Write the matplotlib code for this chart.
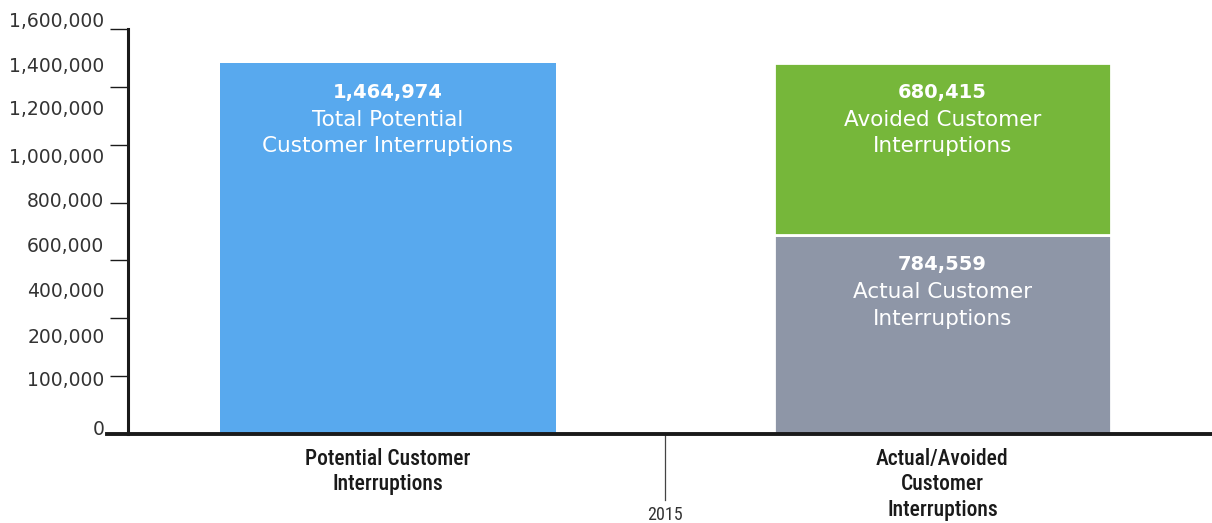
#!/usr/bin/env python3
"""Potential vs. actual/avoided customer interruptions, 2015."""

import matplotlib
matplotlib.use('Agg')
import matplotlib.pyplot as plt
import matplotlib.transforms as mtransforms
import numpy as np

# --- data -------------------------------------------------------------
categories = ['Potential Customer\nInterruptions',
              'Actual/Avoided\nCustomer\nInterruptions']
year_label = '2015'

potential_total = 1464974
actual = 784559
avoided = 680415

bar_notes = {
    'potential': 'Total Potential\nCustomer Interruptions',
    'avoided': 'Avoided Customer\nInterruptions',
    'actual': 'Actual Customer\nInterruptions',
}

# y-axis text labels as printed on the axis, and where they sit
ytick_text = ['1,600,000', '1,400,000', '1,200,000', '1,000,000', '800,000',
              '600,000', '400,000', '200,000', '100,000', '0']
ytick_text_pos = [1629000, 1451000, 1280000, 1094000, 917000,
                  739000, 561000, 383000, 213000, 16000]

# --- style ------------------------------------------------------------
BLUE = '#58a9ee'
GREEN = '#76b73a'
GRAY = '#8e96a7'
AXIS = '#1a1a1a'
LABEL = '#333333'
COND = ['Roboto Condensed', 'Liberation Sans Narrow', 'Liberation Sans',
        'DejaVu Sans']

fig = plt.figure(figsize=(12.12, 5.23), dpi=100)
ax = fig.add_axes([0.1056, 0.1702, 0.8934, 0.7744])

x = np.arange(len(categories))
width = 0.607

ax.bar(x[0], potential_total, width=width, color=BLUE, zorder=2)
ax.bar(x[1], actual, width=width, color=GRAY, edgecolor='white',
       linewidth=2, zorder=2)
ax.bar(x[1], avoided, width=width, bottom=actual, color=GREEN,
       edgecolor='white', linewidth=2, zorder=2)


def bar_label(xpos, top, value, note):
    ax.annotate(f'{value:,}', xy=(xpos, top), xytext=(0, -21),
                textcoords='offset points', ha='center', va='center',
                color='white', fontsize=14, fontweight='bold', zorder=3)
    ax.annotate(note, xy=(xpos, top), xytext=(0, -50.5),
                textcoords='offset points', ha='center', va='center',
                color='white', fontsize=15.5, linespacing=1.38, zorder=3)


bar_label(x[0], potential_total, potential_total, bar_notes['potential'])
bar_label(x[1], actual + avoided, avoided, bar_notes['avoided'])
bar_label(x[1], actual, actual, bar_notes['actual'])

# unlabeled tick marks on the y-axis
ax.set_yticks(np.linspace(0, 1600000, 8))
ax.set_yticklabels([])
ax.tick_params(axis='y', which='major', direction='out', length=13,
               width=1.0, color=AXIS)

# axes limits and spines
ax.set_xlim(-0.469, 1.484)
ax.set_ylim(0, 1600000)
for side in ('top', 'right', 'bottom'):
    ax.spines[side].set_visible(False)
ax.spines['left'].set_linewidth(2.2)
ax.spines['left'].set_color(AXIS)

# printed y labels, placed beside the tick column
ytrans = mtransforms.blended_transform_factory(ax.transAxes, ax.transData)
for txt, pos in zip(ytick_text, ytick_text_pos):
    ax.annotate(txt, xy=(0, pos), xycoords=ytrans, xytext=(-17, 0),
                textcoords='offset points', ha='right', va='center',
                fontsize=13.5, color=LABEL, annotation_clip=False)

# thick baseline running slightly past the y-axis
ax.axhline(0, xmin=-0.019, xmax=1.0, color=AXIS, linewidth=2.8,
           clip_on=False, zorder=5)

# category labels
ax.set_xticks(x)
ax.set_xticklabels(categories, family=COND, fontsize=15.5,
                   fontweight='medium', color=AXIS, linespacing=1.2,
                   va='top')
ax.tick_params(axis='x', length=0, pad=10)

# year divider and label
trans = mtransforms.blended_transform_factory(ax.transData, ax.transAxes)
ax.plot([0.5, 0.5], [0, -0.163], transform=trans, color='#444444',
        linewidth=0.9, clip_on=False)
ax.text(0.5, -0.2, year_label, transform=trans, ha='center', va='center',
        family=COND, fontsize=13, color=LABEL)

fig.savefig('out.png', dpi=100, facecolor='white')
